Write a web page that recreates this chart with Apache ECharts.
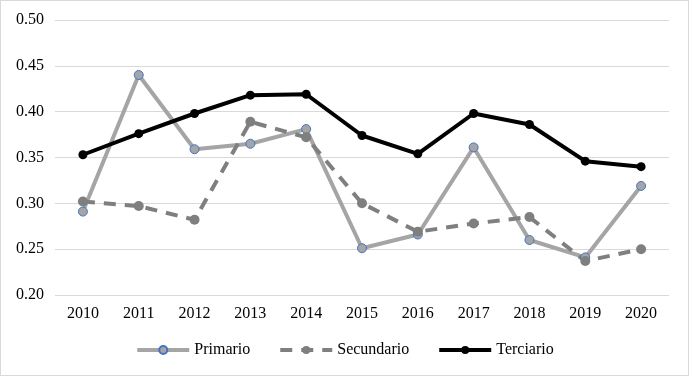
<!DOCTYPE html>
<html>
<head>
<meta charset="utf-8">
<script src="https://cdn.jsdelivr.net/npm/echarts@6/dist/echarts.min.js"></script>
<style>
  html, body { margin: 0; padding: 0; background: #fff; }
  #main { width: 689px; height: 376px; box-sizing: border-box; border: 1px solid #d9d9d9; }
</style>
</head>
<body>
<div id="main"></div>
<script>
var years = ["2010", "2011", "2012", "2013", "2014", "2015", "2016", "2017", "2018", "2019", "2020"];
var primario = [0.291, 0.440, 0.359, 0.365, 0.381, 0.251, 0.266, 0.361, 0.260, 0.241, 0.319];
var secundario = [0.302, 0.297, 0.282, 0.389, 0.372, 0.300, 0.269, 0.278, 0.285, 0.237, 0.250];
var terciario = [0.353, 0.376, 0.398, 0.418, 0.419, 0.374, 0.354, 0.398, 0.386, 0.346, 0.340];

var myChart = echarts.init(document.getElementById("main"), null, { renderer: "canvas" });
var font = "Liberation Serif";

var option = {
  animation: false,
  textStyle: { fontFamily: font },
  grid: { left: 54, right: 19, top: 19, bottom: 80 },
  legend: {
    bottom: 12,
    itemWidth: 52,
    itemHeight: 10,
    itemGap: 28,
    lineStyle: { width: 4 },
    textStyle: { fontFamily: font, fontSize: 16, color: "#000" },
    data: ["Primario", "Secundario", "Terciario"]
  },
  xAxis: {
    type: "category",
    data: years,
    boundaryGap: true,
    axisLine: { show: false },
    axisTick: { show: false },
    axisLabel: { fontFamily: font, fontSize: 16, color: "#000", margin: 11 }
  },
  yAxis: {
    type: "value",
    min: 0.2,
    max: 0.5,
    interval: 0.05,
    axisLine: { show: false },
    axisTick: { show: false },
    splitLine: { lineStyle: { color: "#d9d9d9", width: 1 } },
    axisLabel: {
      fontFamily: font, fontSize: 16, color: "#000", margin: 11,
      formatter: function (v) { return v.toFixed(2); }
    }
  },
  series: [
    {
      name: "Primario",
      type: "line",
      data: primario,
      symbol: "circle",
      symbolSize: 9,
      lineStyle: { color: "#a5a5a5", width: 4 },
      itemStyle: { color: "#a5a5a5", borderColor: "#4472c4", borderWidth: 1 }
    },
    {
      name: "Secundario",
      type: "line",
      data: secundario,
      symbol: "circle",
      symbolSize: 10,
      lineStyle: { color: "#7f7f7f", width: 4, type: [12, 9] },
      itemStyle: { color: "#7f7f7f", borderWidth: 0 }
    },
    {
      name: "Terciario",
      type: "line",
      data: terciario,
      symbol: "circle",
      symbolSize: 9,
      lineStyle: { color: "#000", width: 4 },
      itemStyle: { color: "#000", borderWidth: 0 }
    }
  ]
};

myChart.setOption(option);
window.addEventListener("resize", myChart.resize);
</script>
</body>
</html>
